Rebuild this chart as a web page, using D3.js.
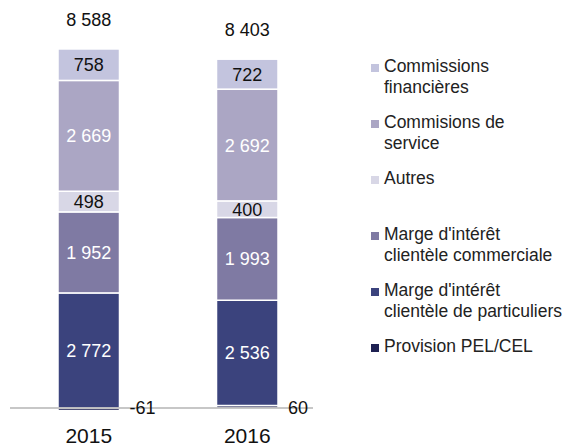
<!DOCTYPE html>
<html>
<head>
<meta charset="utf-8">
<script src="https://cdn.jsdelivr.net/npm/d3@7"></script>
<style>
  body { margin: 0; background: #fff; }
  svg { display: block; font-family: "Liberation Sans", Arial, Helvetica, sans-serif; }
</style>
</head>
<body>
<div id="chart"></div>
<script>
// data, bottom of the stack first
const years = ["2015", "2016"];
const seriesKeys = ["provision", "particuliers", "commerciale", "autres", "service", "financieres"];
const seriesNames = [
    ["Provision PEL/CEL"],
    ["Marge d'intérêt", "clientèle de particuliers"],
    ["Marge d'intérêt", "clientèle commerciale"],
    ["Autres"],
    ["Commisions de", "service"],
    ["Commissions", "financières"]
];
const provision = [-61, 60];
const particuliers = [2772, 2536];
const commerciale = [1952, 1993];
const autres = [498, 400];
const service = [2669, 2692];
const financieres = [758, 722];

const colors = ["#1e2152", "#3b437d", "#7f7aa3", "#d8d7e6", "#aba6c4", "#c3c4de"];
const darkText = ["financieres", "autres"];

const drawChart = id => {
    const width = 566;
    const height = 446;

    const svg = d3.select(id)
        .append("svg")
        .attr("width", width)
        .attr("height", height);

    const rows = years.map((year, i) => ({
        year,
        provision: provision[i],
        particuliers: particuliers[i],
        commerciale: commerciale[i],
        autres: autres[i],
        service: service[i],
        financieres: financieres[i]
    }));

    const stack = d3.stack()
        .keys(seriesKeys)
        .offset(d3.stackOffsetDiverging);
    const layers = stack(rows);

    const x = d3.scaleBand()
        .domain(years)
        .range([58, 278])
        .paddingInner(0.612)
        .paddingOuter(0);

    const y = d3.scaleLinear()
        .domain([0, 9000])
        .range([408, 34.4]);

    const color = d3.scaleOrdinal().domain(seriesKeys).range(colors);

    const fmt = d3.formatLocale({
        decimal: ",",
        thousands: " ",
        grouping: [3],
        currency: ["", ""],
        minus: "-"
    }).format(",d");

    // bars
    const layer = svg.append("g")
        .selectAll("g")
        .data(layers)
        .join("g")
        .attr("fill", d => color(d.key));

    layer.selectAll("rect")
        .data(d => d)
        .join("rect")
        .attr("x", d => x(d.data.year))
        .attr("width", x.bandwidth())
        .attr("y", d => y(Math.max(d[0], d[1])))
        .attr("height", d => Math.abs(y(d[0]) - y(d[1])))
        .attr("stroke", "#fff")
        .attr("stroke-width", 1.5);

    // labels inside the segments
    layers.filter(l => l.key !== "provision").forEach(l => {
        svg.append("g")
            .selectAll("text")
            .data(l)
            .join("text")
            .attr("x", d => x(d.data.year) + x.bandwidth() / 2)
            .attr("y", d => (y(d[0]) + y(d[1])) / 2)
            .attr("dy", "0.36em")
            .attr("text-anchor", "middle")
            .attr("font-size", 18)
            .attr("fill", darkText.includes(l.key) ? "#111" : "#fff")
            .text(d => fmt(d.data[l.key]));
    });

    // baseline
    svg.append("line")
        .attr("x1", 10)
        .attr("x2", 313)
        .attr("y1", y(0))
        .attr("y2", y(0))
        .attr("stroke", "#b4b4b4")
        .attr("stroke-width", 1.5);

    // provision values beside the bars
    svg.append("g")
        .selectAll("text")
        .data(rows)
        .join("text")
        .attr("x", d => x(d.year) + x.bandwidth() + 10)
        .attr("y", y(0))
        .attr("dy", "0.36em")
        .attr("font-size", 18)
        .attr("fill", "#111")
        .text(d => fmt(d.provision));

    // totals
    svg.append("g")
        .selectAll("text")
        .data(rows)
        .join("text")
        .attr("x", d => x(d.year) + x.bandwidth() / 2)
        .attr("y", d => y(d3.sum(seriesKeys, k => Math.max(0, d[k]))) - 23)
        .attr("text-anchor", "middle")
        .attr("font-size", 18)
        .attr("fill", "#111")
        .text(d => fmt(d3.sum(seriesKeys, k => d[k])));

    // year labels
    const xAxis = svg.append("g")
        .attr("transform", `translate(0,${y(0)})`)
        .call(d3.axisBottom(x).tickSize(0).tickPadding(20));
    xAxis.select(".domain").remove();
    xAxis.selectAll("text")
        .attr("font-family", "Liberation Sans, Arial, sans-serif")
        .attr("font-size", 21)
        .attr("fill", "#111");

    // legend, top item is the top of the stack
    const legendKeys = seriesKeys.slice().reverse();
    const legend = svg.append("g")
        .selectAll("g")
        .data(legendKeys)
        .join("g")
        .attr("transform", (d, i) => `translate(371,${72 + i * 56})`);

    legend.append("rect")
        .attr("x", 0)
        .attr("y", -8)
        .attr("width", 8)
        .attr("height", 8)
        .attr("fill", d => color(d));

    legend.append("text")
        .attr("font-size", 17.5)
        .attr("fill", "#222")
        .selectAll("tspan")
        .data(d => seriesNames[seriesKeys.indexOf(d)])
        .join("tspan")
        .attr("x", 13)
        .attr("y", (d, i) => i * 20.5)
        .text(d => d);
}

drawChart("#chart");
</script>
</body>
</html>
